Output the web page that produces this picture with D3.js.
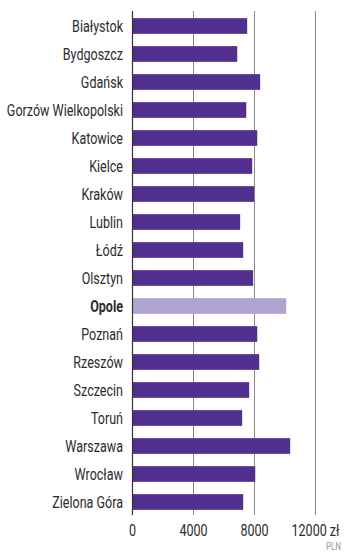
<!DOCTYPE html>
<html>
<head>
<meta charset="utf-8">
<script src="https://cdn.jsdelivr.net/npm/d3@7/dist/d3.min.js"></script>
<style>
  html, body { margin: 0; padding: 0; background: #fff; }
  svg { display: block; }
  text { font-family: "Roboto", "Liberation Sans", sans-serif; }
</style>
</head>
<body>
<svg id="chart" width="344" height="552"></svg>
<script>
// Average monthly salary by city (PLN)
const cities = [
  "Białystok", "Bydgoszcz", "Gdańsk", "Gorzów Wielkopolski", "Katowice",
  "Kielce", "Kraków", "Lublin", "Łódź", "Olsztyn", "Opole", "Poznań",
  "Rzeszów", "Szczecin", "Toruń", "Warszawa", "Wrocław", "Zielona Góra"
];
const salaries = [
  7520, 6870, 8370, 7460, 8180, 7850, 7980, 7060, 7260, 7910,
  10080, 8180, 8310, 7650, 7190, 10340, 8050, 7260
];
const highlighted = ["Opole"];
const tickValues = [0, 4000, 8000, 12000];
const currency = "zł";
const unitNote = "PLN";

const data = cities.map((c, i) => ({ city: c, value: salaries[i] }));

const svg = d3.select("#chart");
const x0 = 132.5;
const x = d3.scaleLinear().domain([0, 12000]).range([x0, x0 + 183]);
const y = d3.scaleBand().domain(cities).range([12, 516]).paddingInner(0.44).paddingOuter(0.22);

// condensed look: squeeze text horizontally
const squeeze = 0.76;

// vertical gridlines
svg.append("g")
  .selectAll("line")
  .data(tickValues.slice(1))
  .join("line")
  .attr("x1", d => x(d)).attr("x2", d => x(d))
  .attr("y1", 11).attr("y2", 515)
  .attr("stroke", "#8a8a8a").attr("stroke-width", 1);

// bars
svg.append("g")
  .selectAll("rect")
  .data(data)
  .join("rect")
  .attr("x", x(0))
  .attr("y", d => y(d.city))
  .attr("width", d => x(d.value) - x(0))
  .attr("height", y.bandwidth())
  .attr("fill", d => highlighted.includes(d.city) ? "#b0a3cf" : "#522f8f");

// zero line
svg.append("line")
  .attr("x1", x(0)).attr("x2", x(0))
  .attr("y1", 11).attr("y2", 515)
  .attr("stroke", "#333").attr("stroke-width", 1.2);

// category labels
svg.append("g")
  .selectAll("text")
  .data(data)
  .join("text")
  .attr("transform", d => `translate(123,${y(d.city) + y.bandwidth() / 2}) scale(${squeeze},1)`)
  .attr("dy", "0.36em")
  .attr("text-anchor", "end")
  .attr("font-size", 16.5)
  .attr("font-weight", d => highlighted.includes(d.city) ? 700 : 400)
  .attr("fill", "#2b2b2b")
  .text(d => d.city);

// tick labels
svg.append("g")
  .selectAll("text")
  .data(tickValues)
  .join("text")
  .attr("transform", d => `translate(${x(d)},535.5) scale(${squeeze},1)`)
  .attr("text-anchor", "middle")
  .attr("font-size", 16.5)
  .attr("fill", "#2b2b2b")
  .text((d, i) => i === tickValues.length - 1 ? d + " " + currency : d);

svg.append("text")
  .attr("transform", `translate(341,549.5) scale(${squeeze},1)`)
  .attr("text-anchor", "end")
  .attr("font-size", 10.5)
  .attr("fill", "#999")
  .text(unitNote);
</script>
</body>
</html>
